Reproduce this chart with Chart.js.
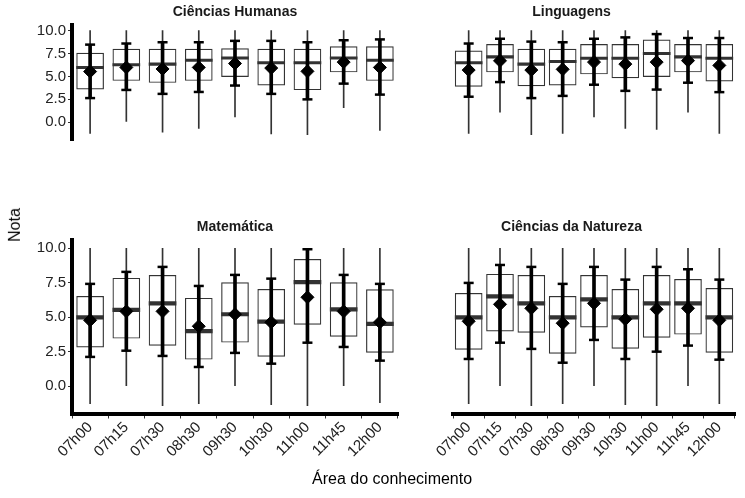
<!DOCTYPE html>
<html>
<head>
<meta charset="utf-8">
<script src="https://cdn.jsdelivr.net/npm/chart.js@4"></script>
<style>
  body { margin: 0; background: #fff; font-family: "Liberation Sans", Arial, sans-serif; }
  #wrap { position: relative; width: 745px; height: 498px; }
  canvas { position: absolute; left: 0; top: 0; }
  .t { position: absolute; font-weight: bold; font-size: 14px; color: #1a1a1a; text-align: center; }
</style>
</head>
<body>
<div id="wrap">
  <canvas id="c0" width="745" height="498"></canvas>
  <canvas id="c1" width="745" height="498"></canvas>
  <canvas id="c2" width="745" height="498"></canvas>
  <canvas id="c3" width="745" height="498"></canvas>
  <div class="t" style="left:72px;width:326px;top:3px">Ciências Humanas</div>
  <div class="t" style="left:408px;width:327px;top:3px">Linguagens</div>
  <div class="t" style="left:72px;width:326px;top:218px">Matemática</div>
  <div class="t" style="left:408px;width:327px;top:218px">Ciências da Natureza</div>
  <div style="position:absolute;left:-2px;top:216px;transform:rotate(-90deg);font-size:16px;color:#000">Nota</div>
  <div style="position:absolute;left:312px;top:470px;font-size:16px;color:#000">Área do conhecimento</div>
</div>
<script>
// categorias (horários)
const horarios = ['07h00', '07h15', '07h30', '08h30', '09h30', '10h30', '11h00', '11h45', '12h00'];
const yTicks = [0, 2.5, 5, 7.5, 10];

// Ciências Humanas
const humWhiskLo = [-1.24, 0.07, -1.08, -0.67, 0.57, -1.29, -1.36, 1.58, -0.91];
const humWhiskHi = [10, 10, 10, 10, 10, 10, 10, 10, 10];
const humQ1 = [3.61, 4.55, 4.33, 4.55, 4.98, 4.04, 3.54, 5.48, 4.55];
const humQ3 = [7.54, 7.97, 7.97, 7.97, 8.04, 7.97, 7.97, 8.25, 8.25];
const humMed = [5.98, 6.27, 6.34, 6.77, 7.01, 6.48, 6.48, 7.01, 6.77];
const humMean = [5.53, 5.98, 5.81, 5.98, 6.41, 5.91, 5.55, 6.56, 5.98];
const humErrLo = [2.63, 3.52, 3.09, 3.30, 4.00, 3.09, 2.49, 4.21, 3.01];
const humErrHi = [8.47, 8.59, 8.73, 8.73, 8.88, 8.88, 8.73, 8.95, 9.04];

// Linguagens
const lingWhiskLo = [-1.24, 1.10, -1.36, -1.24, 0.57, -0.67, -0.79, 1.10, -1.24];
const lingWhiskHi = [10, 10, 10, 10, 10, 10, 10, 10, 10];
const lingQ1 = [3.90, 5.48, 3.97, 4.04, 5.26, 4.83, 4.98, 5.48, 4.47];
const lingQ3 = [7.78, 8.49, 7.99, 7.99, 8.49, 8.49, 9.00, 8.49, 8.49];
const lingMed = [6.48, 7.13, 6.34, 6.63, 6.99, 6.99, 7.49, 7.13, 6.99];
const lingMean = [5.69, 6.70, 5.69, 5.77, 6.56, 6.34, 6.56, 6.72, 6.20];
const lingErrLo = [2.78, 4.38, 2.63, 2.87, 4.09, 3.42, 3.56, 4.31, 3.28];
const lingErrHi = [8.59, 9.11, 8.80, 8.73, 9.11, 9.26, 9.62, 9.19, 9.19];

// Matemática
const matWhiskLo = [-1.26, 0.05, -1.40, -1.26, 0.05, -1.33, -1.40, 0.05, -1.18];
const matWhiskHi = [10, 10, 10, 10, 10, 10, 10, 10, 10];
const matQ1 = [2.83, 3.48, 2.97, 1.96, 3.19, 2.17, 4.49, 3.62, 2.46];
const matQ3 = [6.52, 7.83, 8.04, 6.38, 7.51, 7.03, 9.20, 7.51, 7.00];
const matMed = [5.00, 5.53, 6.01, 3.99, 5.22, 4.69, 7.54, 5.58, 4.52];
const matMean = [4.78, 5.43, 5.43, 4.35, 5.22, 4.64, 6.45, 5.43, 4.64];
const matErrLo = [2.13, 2.58, 2.20, 1.40, 2.42, 1.64, 3.16, 2.85, 1.86];
const matErrHi = [7.42, 8.29, 8.65, 7.27, 8.07, 7.80, 9.93, 8.07, 7.42];

// Ciências da Natureza
const natWhiskLo = [-1.26, 0.05, -1.40, -1.26, 0.05, -1.33, -1.40, 0.05, -1.26];
const natWhiskHi = [10, 10, 10, 10, 10, 10, 10, 10, 10];
const natQ1 = [2.68, 3.99, 3.91, 2.39, 4.28, 2.75, 3.55, 3.77, 2.46];
const natQ3 = [6.74, 8.12, 8.04, 6.52, 8.04, 7.03, 8.04, 7.75, 7.10];
const natMed = [5.00, 6.52, 6.01, 5.00, 6.30, 5.00, 6.01, 6.01, 5.00];
const natMean = [4.71, 5.94, 5.65, 4.57, 6.01, 4.86, 5.58, 5.65, 4.78];
const natErrLo = [1.98, 3.16, 2.71, 1.71, 3.36, 1.98, 2.51, 2.95, 1.93];
const natErrHi = [7.49, 8.79, 8.65, 7.42, 8.65, 7.73, 8.65, 8.48, 7.73];

const zip = (a, b) => a.map((v, i) => [v, b[i]]);

// traço horizontal nas pontas da barra de erro
const capsPlugin = {
  id: 'caps',
  afterDatasetsDraw(chart) {
    const ds = chart.data.datasets.find(d => d.isErr);
    if (!ds) return;
    const { ctx, scales: { x, y } } = chart;
    ctx.save();
    ctx.strokeStyle = '#000';
    ctx.lineWidth = 2.5;
    ds.data.forEach((r, i) => {
      const px = x.getPixelForValue(i);
      r.forEach(v => {
        const py = y.getPixelForValue(v);
        ctx.beginPath();
        ctx.moveTo(px - 5, py);
        ctx.lineTo(px + 5, py);
        ctx.stroke();
      });
    });
    ctx.restore();
  }
};

const YW = 45, XH = 60;

function makePanel(id, s, left, right, top, bottom, showY, showX) {
  new Chart(document.getElementById(id), {
    type: 'bar',
    data: {
      labels: horarios,
      datasets: [
        { type: 'line', data: s.mean, showLine: false, pointStyle: 'rectRot', pointRadius: 6.5,
          backgroundColor: '#000', borderColor: '#000', order: 1 },
        { data: zip(s.errLo, s.errHi), isErr: true, backgroundColor: '#000', barThickness: 3, grouped: false, order: 2 },
        { data: s.med.map(m => [m - 0.13, m + 0.13]), backgroundColor: '#333', barThickness: 27, grouped: false, order: 3 },
        { data: zip(s.q1, s.q3), backgroundColor: '#fff', borderColor: '#333', borderWidth: 1.2,
          borderSkipped: false, barThickness: 27, grouped: false, order: 4 },
        { data: zip(s.lo, s.hi), backgroundColor: '#333', barThickness: 1, grouped: false, order: 5 }
      ]
    },
    options: {
      responsive: false,
      animation: false,
      events: [],
      layout: { padding: {
        left: showY ? left - YW : left,
        right: 745 - right,
        top: top,
        bottom: showX ? 498 - bottom - XH : 498 - bottom
      } },
      plugins: { legend: { display: false }, tooltip: { enabled: false } },
      scales: {
        x: {
          display: showX,
          offset: true,
          afterFit: sc => { sc.height = XH; },
          grid: { drawOnChartArea: false, tickLength: 5, color: '#333' },
          border: { display: showX, width: 4, color: '#000' },
          ticks: { autoSkip: false, minRotation: 45, maxRotation: 45, color: '#222',
            font: { size: 15, family: 'Liberation Sans' }, padding: 0 }
        },
        y: {
          display: showY,
          min: -1.97, max: 10.57,
          afterFit: sc => { sc.width = YW; },
          afterBuildTicks: sc => { sc.ticks = yTicks.map(v => ({ value: v })); },
          grid: { drawOnChartArea: false, tickLength: 4, color: '#333' },
          border: { display: showY, width: 4, color: '#000' },
          ticks: { color: '#222', font: { size: 15, family: 'Liberation Sans' }, padding: 2,
            callback: v => Number(v).toFixed(1) }
        }
      }
    },
    plugins: [capsPlugin]
  });
}

makePanel('c0', { lo: humWhiskLo, hi: humWhiskHi, q1: humQ1, q3: humQ3, med: humMed, mean: humMean, errLo: humErrLo, errHi: humErrHi },
  72, 398, 25.4, 200.2, true, false);
makePanel('c1', { lo: lingWhiskLo, hi: lingWhiskHi, q1: lingQ1, q3: lingQ3, med: lingMed, mean: lingMean, errLo: lingErrLo, errHi: lingErrHi },
  408, 735, 25.4, 200.2, false, false);
makePanel('c2', { lo: matWhiskLo, hi: matWhiskHi, q1: matQ1, q3: matQ3, med: matMed, mean: matMean, errLo: matErrLo, errHi: matErrHi },
  72, 398, 240.4, 413.5, true, true);
makePanel('c3', { lo: natWhiskLo, hi: natWhiskHi, q1: natQ1, q3: natQ3, med: natMed, mean: natMean, errLo: natErrLo, errHi: natErrHi },
  408, 735, 240.4, 413.5, false, true);
</script>
</body>
</html>
